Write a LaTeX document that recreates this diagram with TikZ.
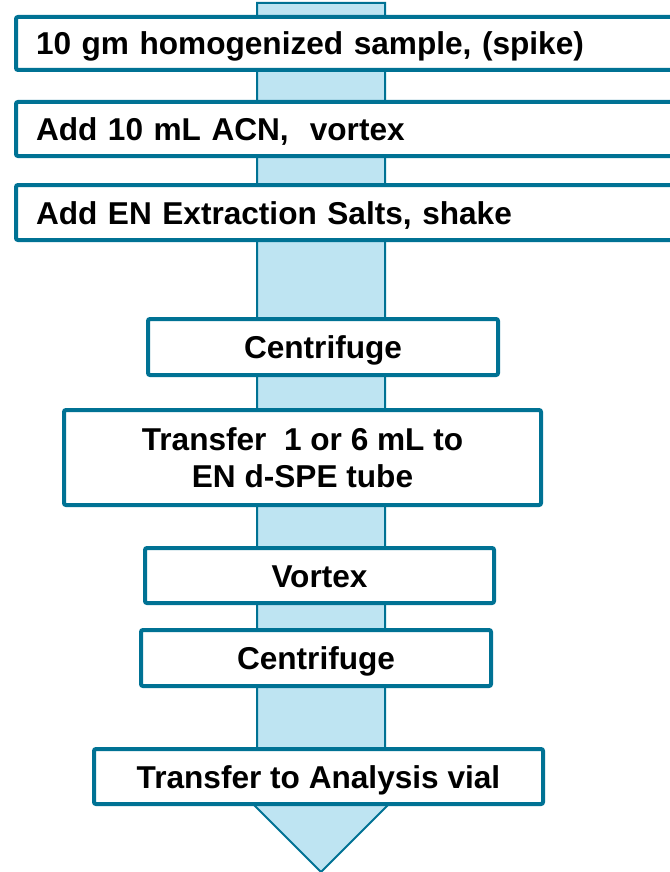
\documentclass[tikz,border=0pt]{standalone}
\usepackage{fontspec}
\setmainfont{Liberation Sans}
\definecolor{bordercol}{RGB}{0,114,148}
\definecolor{shaftfill}{RGB}{190,228,242}
\begin{document}
\begin{tikzpicture}[x=1pt,y=-1pt,
  box/.style={draw=bordercol, line width=4pt, fill=white, rounded corners=2pt,
    inner sep=0pt, text height=23pt, text depth=0pt,
    font=\bfseries\fontsize{31.6}{37}\selectfont, align=center},
  leftbox/.style={box, text width=640pt, inner xsep=20pt, align=left},
  shaft/.style={draw=bordercol, fill=shaftfill, line width=2pt, line join=miter}]
\useasboundingbox (0,0) rectangle (669,872);
\draw[shaft] (257,3) -- (257,776) -- (225,776) -- (321,872) -- (417,776) -- (385,776) -- (385,3) -- cycle;
\node[leftbox, minimum height=53pt] (b1) at (356,43.5) {10 gm homogenized sample, (spike)};
\node[leftbox, minimum height=54pt] (b2) at (356,129) {Add 10 mL ACN,\ \ vortex};
\node[leftbox, minimum height=55pt] (b3) at (356,212.5) {Add EN Extraction Salts, shake};
\node[box, minimum width=350pt, minimum height=56pt] (b4) at (323,347) {Centrifuge};
\node[box, minimum width=477pt, minimum height=95pt, text height=60pt] (b5) at (302.5,457.5) {Transfer\ \ 1 or 6 mL to\\EN d-SPE tube};
\node[box, minimum width=349pt, minimum height=55pt] (b6) at (319.5,575.5) {Vortex};
\node[box, minimum width=350pt, minimum height=56pt] (b7) at (316,658) {Centrifuge};
\node[box, minimum width=449pt, minimum height=55pt] (b8) at (318.5,776.5) {Transfer to Analysis vial};
\end{tikzpicture}
\end{document}
